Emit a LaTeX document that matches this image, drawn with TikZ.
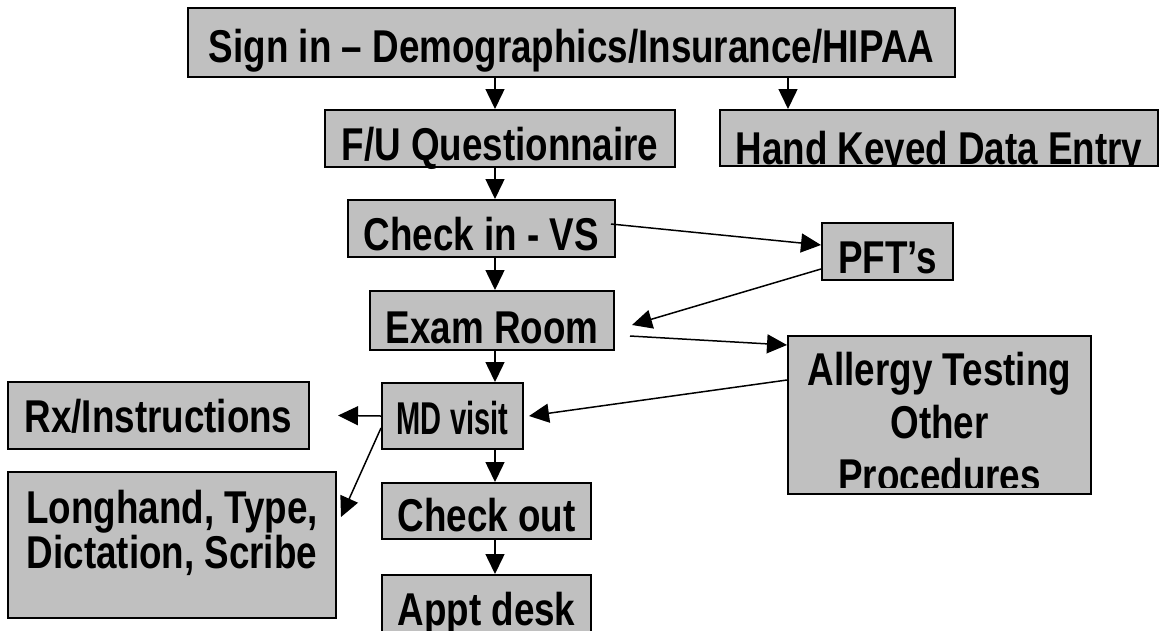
\documentclass[tikz,border=0pt]{standalone}
\usepackage{fontspec}
\setmainfont[FakeStretch=0.8]{Liberation Sans}
\usepackage{graphicx}
\usepackage{tikz}
\usetikzlibrary{%
   arrows.meta,%
   calc,%
   positioning}
\definecolor{boxgray}{HTML}{C0C0C0}

\begin{document}
\begin{tikzpicture}
[x=1pt, y=-1pt,
 font=\fontsize{46pt}{53pt}\selectfont\bfseries,
 box/.style={draw, line width=2pt, fill=boxgray, inner sep=0pt, text height=50pt, text depth=7pt},
 boxtxt/.style={draw=none, fill=none, inner sep=0pt, text height=, text depth=, align=center},
 pfeil/.style={-{Triangle[length=20pt, width=19pt]}, line width=1.5pt}]
\useasboundingbox (0,0) rectangle (1159,630);
\node (signin) [box, minimum width=767pt, text height=54pt, text depth=15pt] at (571.5,42.5) {Sign in – Demographics/Insurance/HIPAA};
\node (fuquest) [box, minimum width=350pt] at (500,138.5) {F/U Questionnaire};
\node (handkey) [box, minimum width=438pt, minimum height=56pt, text height=0pt, text depth=0pt,
   path picture={\node (handtxt) [boxtxt, anchor=base] at ([yshift=2pt]path picture bounding box.south) {Hand Keyed Data Entry};}] at (939,138) {};
\node (checkin) [box, minimum width=267pt] at (481.5,228.5) {Check in - VS};
\node (pftests) [box, minimum width=131pt] at (887.5,251.5) {PFT’s};
\node (examrm) [box, minimum width=244pt, text height=52pt] at (492,320.5) {Exam Room};
\node (allergy) [box, minimum width=303pt, minimum height=158pt, text height=0pt, text depth=0pt,
   path picture={\clip ([yshift=7pt]path picture bounding box.south west) rectangle (path picture bounding box.north east);
      \node (algytxt) [boxtxt, anchor=north] at ([yshift=-6pt]path picture bounding box.north) {Allergy Testing\\ Other\\ Procedures};}] at (939.5,415) {};
\node (mdvisit) [box, minimum width=141pt, text height=51pt, text depth=15pt] at (452.5,416) {\scalebox{0.79}[1]{MD visit}};
\node (rxinstr) [box, minimum width=301pt, text depth=17pt] at (158.5,415.5) {Rx/Instructions};
\node (longhnd) [box, minimum width=328pt, minimum height=146pt, text height=0pt, text depth=0pt,
   path picture={\node (longtxt) [boxtxt, anchor=north, font=\fontsize{46pt}{45pt}\selectfont\bfseries] at ([yshift=13pt]path picture bounding box.north) {Longhand, Type,\\ Dictation, Scribe};}] at (172,545) {};
\node (checkot) [box, minimum width=209pt, text height=48pt, text depth=8pt] at (486.5,511) {Check out};
\node (apptdsk) [box, minimum width=209pt, below=34pt of checkot] {Appt desk};
\coordinate (spine) at (495,0);
\coordinate (hkcol) at (788,0);
\draw[pfeil] (signin.south -| spine) -- (fuquest.north -| spine);
\draw[pfeil] (signin.south -| hkcol) -- (handkey.north -| hkcol);
\draw[pfeil] (fuquest.south -| spine) -- (checkin.north -| spine);
\draw[pfeil] ([xshift=-5pt, yshift=4.5pt]checkin.east) -- ([yshift=6.5pt]pftests.west);
\draw[pfeil] (checkin.south -| spine) -- (examrm.north -| spine);
\draw[pfeil] ([yshift=-17.5pt]pftests.west) -- ([xshift=17pt, yshift=-4.5pt]examrm.east);
\draw[pfeil] ([xshift=15pt, yshift=-15.5pt]examrm.east) -- ([yshift=-10pt]allergy.north west);
\draw[pfeil] ([yshift=-45pt]allergy.north west) -- ([xshift=5pt]mdvisit.east);
\draw[pfeil] (examrm.south -| spine) -- (mdvisit.north -| spine);
\draw[pfeil] (mdvisit.west) -- ([xshift=28pt]rxinstr.east);
\draw[pfeil] ([yshift=-12pt]mdvisit.west) -- ([xshift=4pt, yshift=28pt]longhnd.east);
\draw[pfeil] (mdvisit.south -| spine) -- (checkot.north -| spine);
\draw[pfeil] (checkot.south -| spine) -- (apptdsk.north -| spine);
\end{tikzpicture}
\end{document}
